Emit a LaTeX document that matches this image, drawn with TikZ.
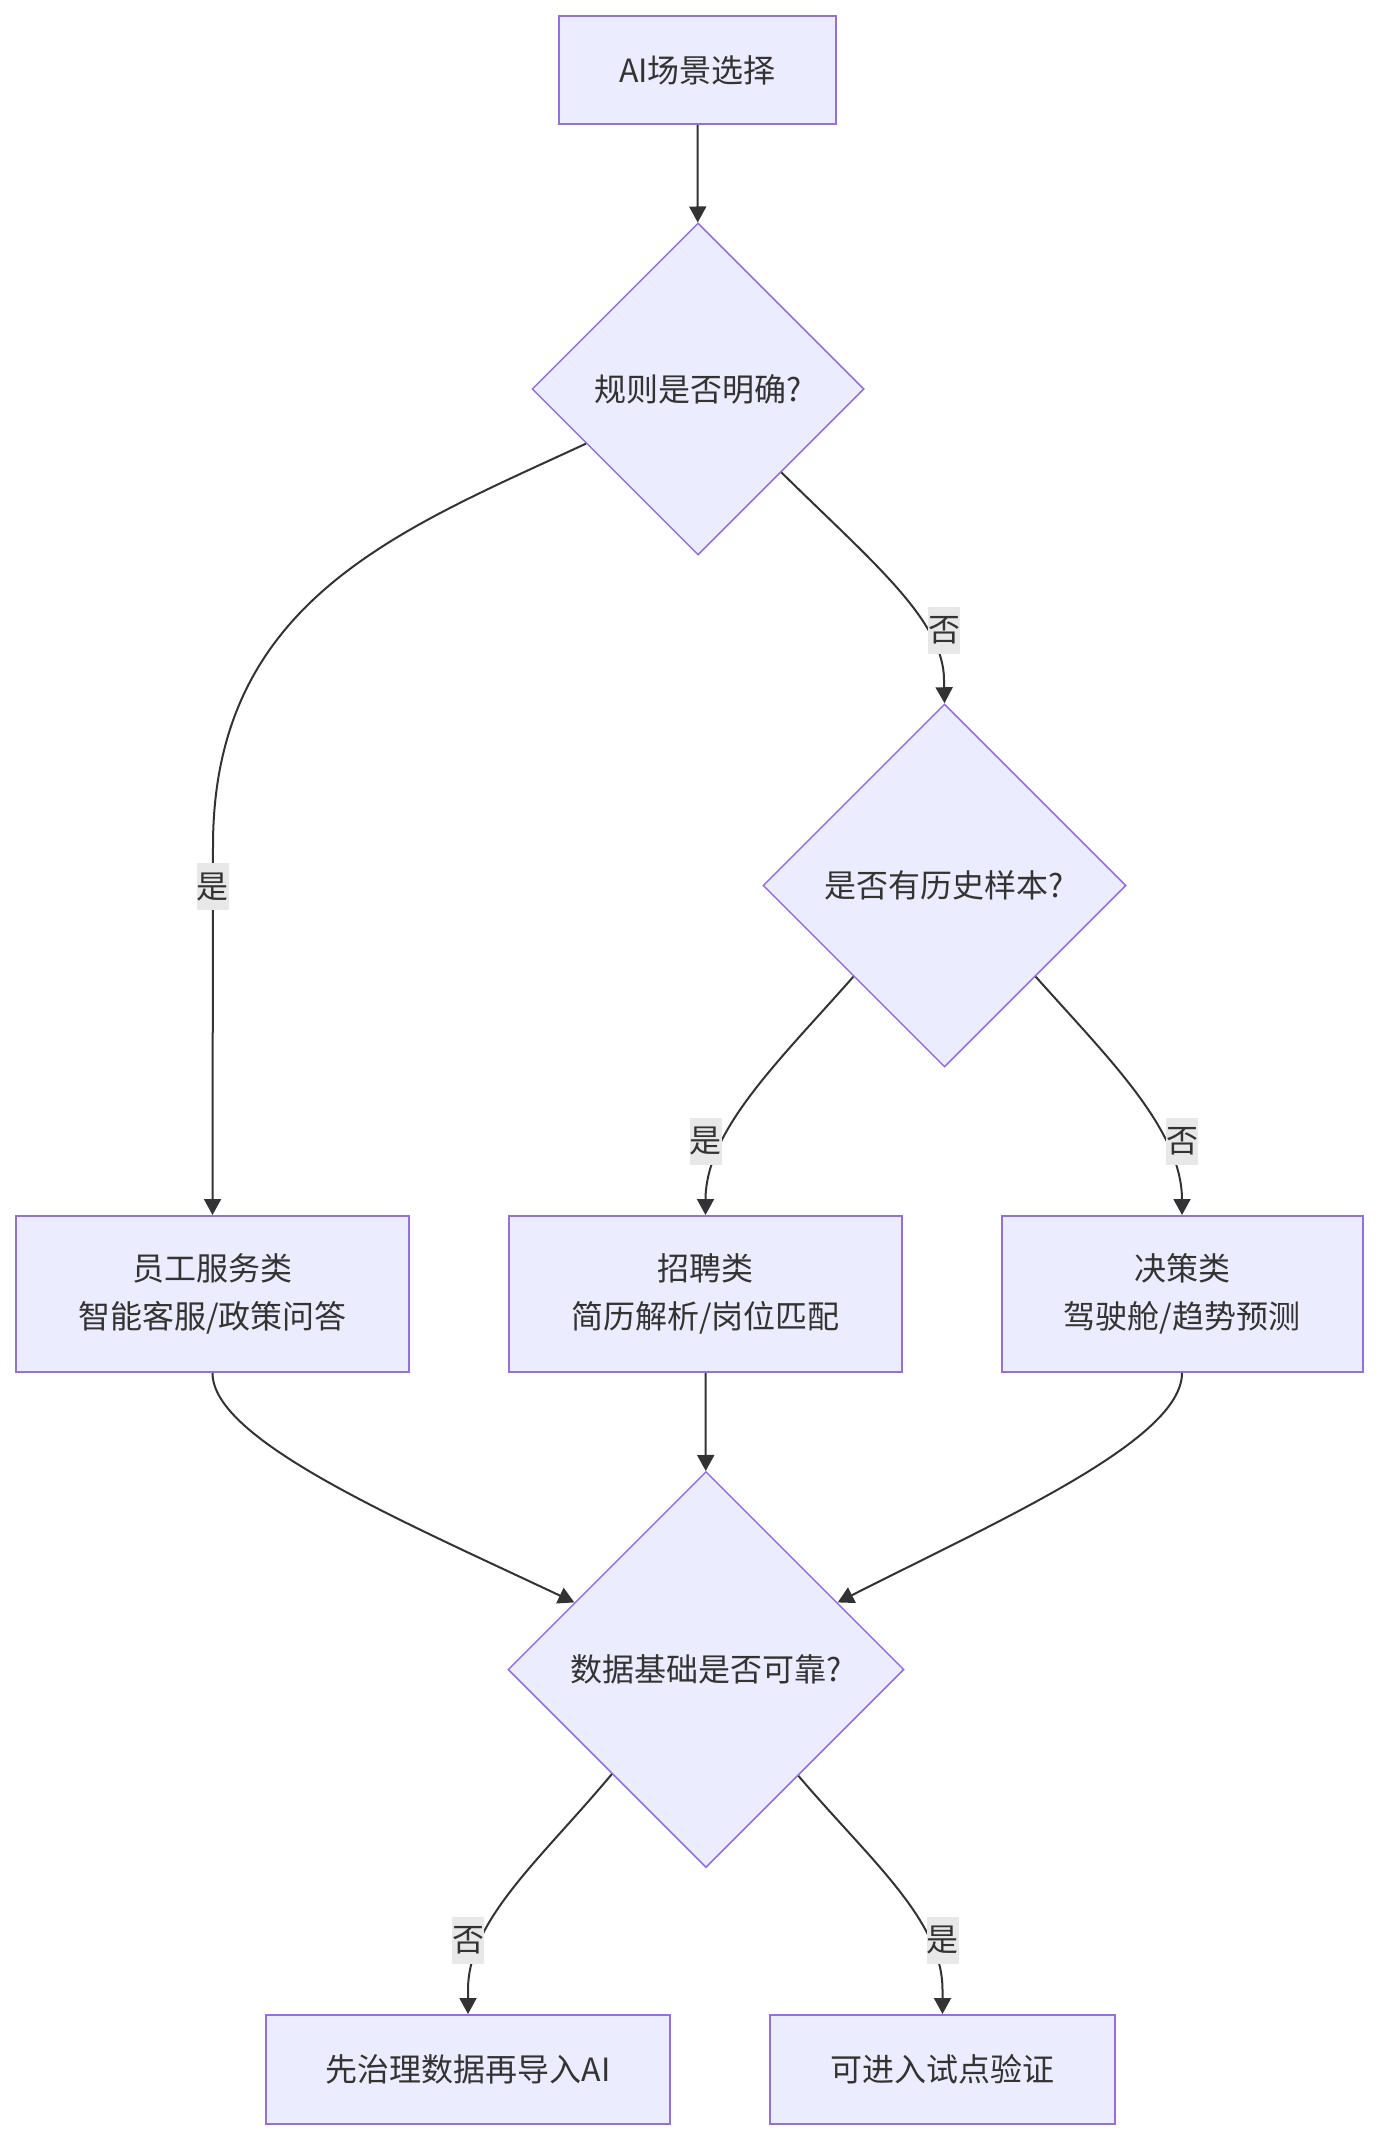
\documentclass[tikz,border=0pt]{standalone}
\usepackage{fontspec}
\setmainfont{Noto Sans CJK SC}
\usetikzlibrary{shapes.geometric,arrows.meta,positioning}
\definecolor{nodefill}{HTML}{ECECFF}
\definecolor{nodeline}{HTML}{9370DB}
\definecolor{ink}{HTML}{333333}
\definecolor{labelbg}{HTML}{E8E8E8}

\begin{document}
\begin{tikzpicture}[x=1pt, y=1pt,
  every node/.style={text=ink, font=\fontsize{32}{48}\selectfont},
  box/.style={draw=nodeline, fill=nodefill, line width=2pt, rectangle, align=center, inner sep=0pt},
  decision/.style={draw=nodeline, fill=nodefill, line width=1.5pt, diamond, aspect=1, inner sep=0pt},
  flow/.style={draw=ink, line width=2pt, -{Triangle[length=16pt,width=17pt]}},
  elabel/.style={fill=labelbg, inner sep=0pt, minimum width=32pt, minimum height=47pt}]
\useasboundingbox (0,0) rectangle (1378,-2140);

\node (choose) [box, minimum width=277pt, minimum height=108pt] at (697.5,-70) {AI场景选择};
\node (rule) [decision, minimum width=332pt, minimum height=332pt] at (698,-389) {规则是否明确?};
\node (hist) [decision, minimum width=363pt, minimum height=363pt] at (944.5,-885.5) {是否有历史样本?};
\node (staff) [box, minimum width=393pt, minimum height=156pt] at (212.5,-1294) {员工服务类\\智能客服/政策问答};
\node (hire) [box, minimum width=393pt, minimum height=156pt] at (705.5,-1294) {招聘类\\简历解析/岗位匹配};
\node (decide) [box, minimum width=361pt, minimum height=156pt] at (1182,-1294) {决策类\\驾驶舱/趋势预测};
\node (data) [decision, minimum width=396pt, minimum height=396pt] at (706,-1669.5) {数据基础是否可靠?};
\node (govern) [box, minimum width=404pt, minimum height=109pt] at (468,-2069.5) {先治理数据再导入AI};
\node (pilot) [box, minimum width=345pt, minimum height=109pt] at (942.5,-2069.5) {可进入试点验证};

\draw[flow] (choose) -- (rule);
\draw[flow] (rule.206.6) .. controls (400,-530) and (213,-600) .. (213,-846)
  -- node[elabel, pos=0.11] {是} (staff.north);
\draw[flow] (rule.south east) .. controls (870,-560) and (944,-620) .. (944,-680)
  node[elabel] at (944,-630) {否} -- (hist.north);
\draw[flow] (hist.south west) .. controls (780,-1060) and (705.5,-1130) .. (705.5,-1200)
  node[elabel] at (705.5,-1141) {是} -- (hire.north);
\draw[flow] (hist.south east) .. controls (1110,-1060) and (1182,-1130) .. (1182,-1200)
  node[elabel] at (1182,-1141) {否} -- (decide.north);
\draw[flow] (staff.south) .. controls (212.5,-1440) and (400,-1520) .. (data.153);
\draw[flow] (hire) -- (data);
\draw[flow] (decide.south) .. controls (1182,-1440) and (1000,-1520) .. (data.27.7);
\draw[flow] (data.228.5) .. controls (540,-1860) and (468,-1920) .. (468,-1990)
  node[elabel] at (468,-1940) {否} -- (govern.north);
\draw[flow] (data.311.5) .. controls (870,-1860) and (942.5,-1920) .. (942.5,-1990)
  node[elabel] at (942.5,-1940) {是} -- (pilot.north);
\end{tikzpicture}
\end{document}
